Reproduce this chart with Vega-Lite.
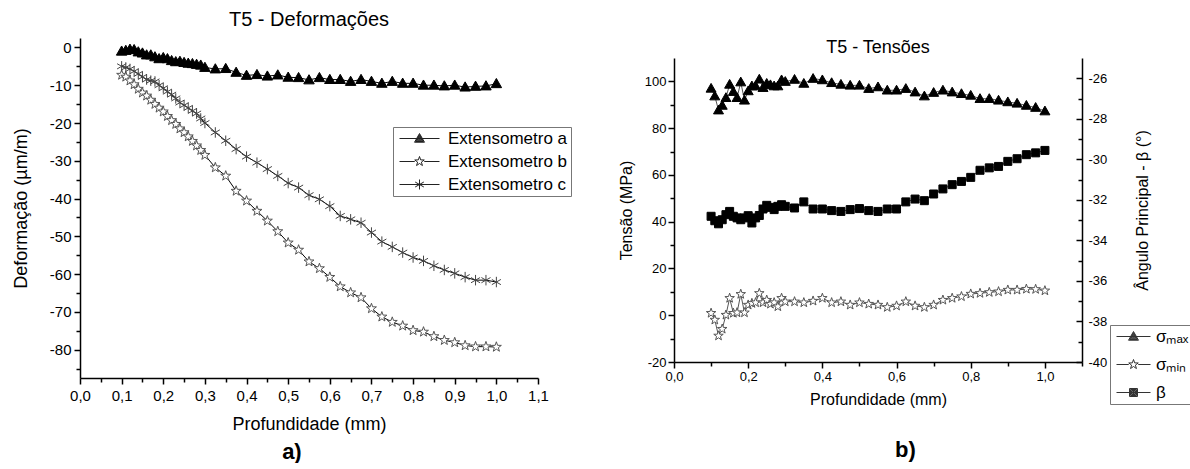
{
  "$schema": "https://vega.github.io/schema/vega-lite/v6.json",
  "background": "white",
  "padding": {"left": 12, "top": 10, "right": 0, "bottom": 0},
  "spacing": 46,
  "resolve": {"scale": {"shape": "independent", "fill": "independent", "stroke": "independent"}},
  "datasets": {
    "deform": [
      {"x":0.10,"Extensometro a":-1.0,"Extensometro b":-7.3,"Extensometro c":-5.0},
      {"x":0.11,"Extensometro a":-0.8,"Extensometro b":-7.8,"Extensometro c":-5.3},
      {"x":0.12,"Extensometro a":-0.5,"Extensometro b":-8.8,"Extensometro c":-5.7},
      {"x":0.13,"Extensometro a":-0.6,"Extensometro b":-9.8,"Extensometro c":-6.3},
      {"x":0.14,"Extensometro a":-1.2,"Extensometro b":-11.0,"Extensometro c":-7.0},
      {"x":0.15,"Extensometro a":-1.5,"Extensometro b":-12.0,"Extensometro c":-7.8},
      {"x":0.16,"Extensometro a":-2.0,"Extensometro b":-12.8,"Extensometro c":-8.5},
      {"x":0.17,"Extensometro a":-2.0,"Extensometro b":-13.9,"Extensometro c":-8.8},
      {"x":0.18,"Extensometro a":-2.5,"Extensometro b":-15.0,"Extensometro c":-9.0},
      {"x":0.19,"Extensometro a":-3.0,"Extensometro b":-16.0,"Extensometro c":-10.0},
      {"x":0.20,"Extensometro a":-2.7,"Extensometro b":-17.0,"Extensometro c":-10.8},
      {"x":0.21,"Extensometro a":-3.0,"Extensometro b":-18.2,"Extensometro c":-11.7},
      {"x":0.22,"Extensometro a":-3.5,"Extensometro b":-19.3,"Extensometro c":-12.5},
      {"x":0.23,"Extensometro a":-3.8,"Extensometro b":-20.3,"Extensometro c":-13.5},
      {"x":0.24,"Extensometro a":-3.7,"Extensometro b":-21.5,"Extensometro c":-14.6},
      {"x":0.25,"Extensometro a":-4.0,"Extensometro b":-22.5,"Extensometro c":-15.3},
      {"x":0.26,"Extensometro a":-4.2,"Extensometro b":-23.6,"Extensometro c":-16.0},
      {"x":0.27,"Extensometro a":-4.3,"Extensometro b":-24.8,"Extensometro c":-16.8},
      {"x":0.28,"Extensometro a":-4.5,"Extensometro b":-26.0,"Extensometro c":-17.5},
      {"x":0.29,"Extensometro a":-4.7,"Extensometro b":-27.2,"Extensometro c":-18.8},
      {"x":0.30,"Extensometro a":-5.3,"Extensometro b":-28.5,"Extensometro c":-20.0},
      {"x":0.325,"Extensometro a":-5.7,"Extensometro b":-31.8,"Extensometro c":-22.5},
      {"x":0.35,"Extensometro a":-5.6,"Extensometro b":-34.0,"Extensometro c":-24.7},
      {"x":0.375,"Extensometro a":-6.6,"Extensometro b":-38.0,"Extensometro c":-26.9},
      {"x":0.40,"Extensometro a":-7.4,"Extensometro b":-40.6,"Extensometro c":-28.9},
      {"x":0.425,"Extensometro a":-7.2,"Extensometro b":-43.3,"Extensometro c":-30.5},
      {"x":0.45,"Extensometro a":-7.6,"Extensometro b":-45.9,"Extensometro c":-32.2},
      {"x":0.475,"Extensometro a":-7.3,"Extensometro b":-48.7,"Extensometro c":-34.0},
      {"x":0.50,"Extensometro a":-7.9,"Extensometro b":-51.7,"Extensometro c":-35.9},
      {"x":0.525,"Extensometro a":-8.0,"Extensometro b":-53.6,"Extensometro c":-37.1},
      {"x":0.55,"Extensometro a":-8.6,"Extensometro b":-56.7,"Extensometro c":-39.1},
      {"x":0.575,"Extensometro a":-8.0,"Extensometro b":-58.5,"Extensometro c":-40.2},
      {"x":0.60,"Extensometro a":-8.5,"Extensometro b":-60.8,"Extensometro c":-42.0},
      {"x":0.625,"Extensometro a":-8.5,"Extensometro b":-63.3,"Extensometro c":-44.6},
      {"x":0.65,"Extensometro a":-9.0,"Extensometro b":-64.9,"Extensometro c":-45.5},
      {"x":0.675,"Extensometro a":-8.5,"Extensometro b":-66.2,"Extensometro c":-46.4},
      {"x":0.70,"Extensometro a":-9.0,"Extensometro b":-69.1,"Extensometro c":-49.0},
      {"x":0.725,"Extensometro a":-9.5,"Extensometro b":-71.3,"Extensometro c":-51.4},
      {"x":0.75,"Extensometro a":-9.0,"Extensometro b":-72.7,"Extensometro c":-52.8},
      {"x":0.775,"Extensometro a":-9.5,"Extensometro b":-73.7,"Extensometro c":-54.3},
      {"x":0.80,"Extensometro a":-9.5,"Extensometro b":-74.9,"Extensometro c":-55.6},
      {"x":0.825,"Extensometro a":-10.0,"Extensometro b":-75.3,"Extensometro c":-56.5},
      {"x":0.85,"Extensometro a":-10.0,"Extensometro b":-76.5,"Extensometro c":-57.8},
      {"x":0.875,"Extensometro a":-10.2,"Extensometro b":-77.5,"Extensometro c":-58.9},
      {"x":0.90,"Extensometro a":-10.0,"Extensometro b":-78.1,"Extensometro c":-59.8},
      {"x":0.925,"Extensometro a":-10.5,"Extensometro b":-78.9,"Extensometro c":-60.8},
      {"x":0.95,"Extensometro a":-10.3,"Extensometro b":-79.2,"Extensometro c":-61.6},
      {"x":0.975,"Extensometro a":-10.2,"Extensometro b":-79.2,"Extensometro c":-61.6},
      {"x":1.00,"Extensometro a":-9.6,"Extensometro b":-79.3,"Extensometro c":-62.1}
    ],
    "tensao": [
      {"x":0.10,"σmax":97.0,"σmin":0.9,"β":-32.81},
      {"x":0.11,"σmax":93.7,"σmin":-2.0,"β":-33.03},
      {"x":0.12,"σmax":87.7,"σmin":-8.8,"β":-33.18},
      {"x":0.13,"σmax":89.7,"σmin":-5.9,"β":-32.98},
      {"x":0.14,"σmax":93.0,"σmin":0.1,"β":-32.73},
      {"x":0.15,"σmax":98.7,"σmin":7.3,"β":-32.57},
      {"x":0.16,"σmax":95.6,"σmin":0.9,"β":-32.81},
      {"x":0.17,"σmax":93.0,"σmin":1.1,"β":-32.89},
      {"x":0.18,"σmax":99.7,"σmin":9.0,"β":-32.98},
      {"x":0.19,"σmax":91.9,"σmin":1.1,"β":-32.89},
      {"x":0.20,"σmax":95.9,"σmin":4.4,"β":-32.78},
      {"x":0.21,"σmax":98.0,"σmin":5.1,"β":-33.14},
      {"x":0.22,"σmax":98.0,"σmin":5.4,"β":-32.89},
      {"x":0.23,"σmax":100.9,"σmin":9.4,"β":-32.77},
      {"x":0.24,"σmax":97.3,"σmin":5.4,"β":-32.45},
      {"x":0.25,"σmax":99.1,"σmin":6.5,"β":-32.27},
      {"x":0.26,"σmax":98.5,"σmin":4.8,"β":-32.37},
      {"x":0.27,"σmax":98.0,"σmin":5.4,"β":-32.48},
      {"x":0.28,"σmax":98.0,"σmin":3.7,"β":-32.32},
      {"x":0.29,"σmax":100.6,"σmin":7.3,"β":-32.24},
      {"x":0.30,"σmax":99.9,"σmin":5.8,"β":-32.32},
      {"x":0.325,"σmax":100.8,"σmin":5.8,"β":-32.40},
      {"x":0.35,"σmax":99.1,"σmin":5.4,"β":-32.10},
      {"x":0.375,"σmax":101.2,"σmin":6.1,"β":-32.45},
      {"x":0.40,"σmax":100.6,"σmin":7.3,"β":-32.45},
      {"x":0.425,"σmax":99.4,"σmin":5.4,"β":-32.53},
      {"x":0.45,"σmax":98.7,"σmin":5.8,"β":-32.57},
      {"x":0.475,"σmax":98.3,"σmin":4.4,"β":-32.48},
      {"x":0.50,"σmax":98.3,"σmin":5.4,"β":-32.43},
      {"x":0.525,"σmax":96.9,"σmin":4.8,"β":-32.53},
      {"x":0.55,"σmax":97.6,"σmin":4.4,"β":-32.57},
      {"x":0.575,"σmax":96.2,"σmin":3.4,"β":-32.45},
      {"x":0.60,"σmax":96.2,"σmin":4.0,"β":-32.45},
      {"x":0.625,"σmax":96.9,"σmin":5.8,"β":-32.10},
      {"x":0.65,"σmax":95.4,"σmin":4.0,"β":-31.96},
      {"x":0.675,"σmax":93.7,"σmin":3.4,"β":-32.04},
      {"x":0.70,"σmax":95.2,"σmin":4.4,"β":-31.71},
      {"x":0.725,"σmax":96.2,"σmin":6.5,"β":-31.46},
      {"x":0.75,"σmax":95.4,"σmin":7.3,"β":-31.25},
      {"x":0.775,"σmax":94.7,"σmin":8.0,"β":-31.09},
      {"x":0.80,"σmax":94.0,"σmin":9.1,"β":-30.89},
      {"x":0.825,"σmax":92.6,"σmin":9.4,"β":-30.54},
      {"x":0.85,"σmax":92.6,"σmin":9.8,"β":-30.42},
      {"x":0.875,"σmax":91.9,"σmin":10.1,"β":-30.35},
      {"x":0.90,"σmax":91.2,"σmin":10.8,"β":-30.10},
      {"x":0.925,"σmax":90.6,"σmin":10.8,"β":-29.97},
      {"x":0.95,"σmax":89.7,"σmin":11.2,"β":-29.77},
      {"x":0.975,"σmax":88.8,"σmin":11.1,"β":-29.68},
      {"x":1.00,"σmax":87.3,"σmin":10.5,"β":-29.56}
    ]
  },
  "hconcat": [
    {
      "title": {"text": "a)", "orient": "bottom", "anchor": "middle", "fontWeight": "bold", "fontSize": 22, "offset": 9},
      "vconcat": [
        {
          "width": 458,
          "height": 340,
          "title": {"text": "T5 - Deformações", "fontSize": 20, "offset": 8, "anchor": "middle"},
          "data": {"name": "deform"},
          "transform": [{"fold": ["Extensometro a", "Extensometro b", "Extensometro c"], "as": ["s", "v"]}],
          "encoding": {
            "x": {
              "field": "x", "type": "quantitative", "title": "Profundidade (mm)",
              "scale": {"domain": [0, 1.1], "nice": false, "zero": false},
              "axis": {
                "values": [0,0.05,0.1,0.15,0.2,0.25,0.3,0.35,0.4,0.45,0.5,0.55,0.6,0.65,0.7,0.75,0.8,0.85,0.9,0.95,1,1.05,1.1],
                "labelExpr": "abs(datum.value*10 - round(datum.value*10)) < 0.001 ? replace(format(datum.value, '.1f'), '.', ',') : ''",
                "tickSize": {"condition": {"test": "abs(datum.value*10 - round(datum.value*10)) < 0.001", "value": 6}, "value": 4},
                "labelFontSize": 15, "titleFontSize": 18, "labelPadding": 4, "titlePadding": 12, "labelFlush": false, "labelOverlap": false
              }
            },
            "y": {
              "field": "v", "type": "quantitative", "title": "Deformação (µm/m)",
              "scale": {"domain": [-87.5, 2.5], "nice": false, "zero": false},
              "axis": {
                "values": [-85,-80,-75,-70,-65,-60,-55,-50,-45,-40,-35,-30,-25,-20,-15,-10,-5,0],
                "labelExpr": "datum.value % 10 === 0 ? '' + datum.value : ''",
                "tickSize": {"condition": {"test": "datum.value % 10 === 0", "value": 6}, "value": 4},
                "labelFontSize": 15, "titleFontSize": 18, "labelPadding": 3, "titlePadding": 19, "labelOverlap": false
              }
            }
          },
          "layer": [
            {"mark": {"type": "line", "color": "black", "strokeWidth": 1}, "encoding": {"detail": {"field": "s"}}},
            {
              "mark": {"type": "point", "size": 110, "strokeWidth": 1, "opacity": 1},
              "encoding": {
                "shape": {
                  "field": "s", "type": "nominal", "legend": null,
                  "scale": {"domain": ["Extensometro a", "Extensometro b", "Extensometro c"], "range": ["M0,-1L1,0.75L-1,0.75Z", "M0,-1L0.235,-0.324L0.951,-0.309L0.38,0.124L0.588,0.809L0,0.4L-0.588,0.809L-0.38,0.124L-0.951,-0.309L-0.235,-0.324Z", "M0,-1V1M-0.866,-0.5L0.866,0.5M-0.866,0.5L0.866,-0.5"]}
                },
                "fill": {"field": "s", "type": "nominal", "scale": {"domain": ["Extensometro a", "Extensometro b", "Extensometro c"], "range": ["black", "white", "transparent"]}, "legend": null},
                "stroke": {"field": "s", "type": "nominal", "scale": {"domain": ["Extensometro a", "Extensometro b", "Extensometro c"], "range": ["black", "#555", "#444"]}, "legend": null}
              }
            },
            {
              "transform": [{"filter": "false"}],
              "mark": {"type": "point", "size": 100, "strokeWidth": 1, "opacity": 1, "filled": false, "color": "#222"},
              "encoding": {
                "shape": {
                  "field": "s", "type": "nominal",
                  "scale": {"domain": ["Extensometro a", "Extensometro b", "Extensometro c"], "range": [
                    "M-1,0H7M3,-1L4,0.75L2,0.75ZM3,-0.8L3.8,0.6L2.2,0.6ZM3,-0.6L3.6,0.45L2.4,0.45ZM3,-0.4L3.4,0.3L2.6,0.3ZM3,-0.2L3.2,0.15L2.8,0.15Z",
                    "M-1,0H2.05M3.95,0H7M3,-1L3.235,-0.324L3.951,-0.309L3.38,0.124L3.588,0.809L3,0.4L2.412,0.809L2.62,0.124L2.049,-0.309L2.765,-0.324Z",
                    "M-1,0H7M3,-1V1M2.134,-0.5L3.866,0.5M2.134,0.5L3.866,-0.5"]},
                  "legend": {
                    "title": null, "orient": "none", "legendX": 313, "legendY": 89,
                    "strokeColor": "#777", "fillColor": "white", "padding": 3,
                    "labelFontSize": 17, "labelColor": "black", "labelFont": "Liberation Sans",
                    "symbolSize": 100, "labelOffset": 35, "rowPadding": 5, "symbolStrokeWidth": 1
                  }
                }
              }
            }
          ],
          "resolve": {"scale": {"shape": "independent"}}
        }
      ]
    },
    {
      "title": {"text": "b)", "orient": "bottom", "anchor": "middle", "fontWeight": "bold", "fontSize": 22, "offset": 33},
      "spacing": 0,
      "vconcat": [
        {
          "width": 408,
          "height": 1,
          "data": {"values": []},
          "mark": {"type": "point", "opacity": 0}
        },
        {
          "width": 408,
          "height": 304,
          "title": {"text": "T5 - Tensões", "fontSize": 18, "offset": 1, "anchor": "middle"},
          "data": {"name": "tensao"},
          "encoding": {
            "x": {
              "field": "x", "type": "quantitative", "title": "Profundidade (mm)",
              "scale": {"domain": [0, 1.1], "nice": false, "zero": false},
              "axis": {
                "values": [0,0.1,0.2,0.3,0.4,0.5,0.6,0.7,0.8,0.9,1,1.1],
                "labelExpr": "abs(datum.value*5 - round(datum.value*5)) < 0.001 && datum.value < 1.05 ? replace(format(datum.value, '.1f'), '.', ',') : ''",
                "tickSize": {"condition": {"test": "abs(datum.value*5 - round(datum.value*5)) < 0.001", "value": 6}, "value": 4},
                "labelFontSize": 13, "titleFontSize": 16, "labelPadding": 2, "titlePadding": 8, "labelFlush": false, "labelOverlap": false
              }
            }
          },
          "layer": [
            {
              "transform": [{"fold": ["σmax", "σmin"], "as": ["s", "v"]}],
              "encoding": {
                "y": {
                  "field": "v", "type": "quantitative", "title": "Tensão (MPa)",
                  "scale": {"domain": [-20, 110], "nice": false, "zero": false},
                  "axis": {
                    "values": [-20,-10,0,10,20,30,40,50,60,70,80,90,100],
                    "labelExpr": "datum.value % 20 === 0 ? '' + datum.value : ''",
                    "tickSize": {"condition": {"test": "datum.value % 20 === 0", "value": 6}, "value": 4},
                    "labelFontSize": 13, "titleFontSize": 16, "labelPadding": 2, "titlePadding": 10, "labelOverlap": false
                  }
                }
              },
              "layer": [
                {"mark": {"type": "line", "color": "#555", "strokeWidth": 1}, "encoding": {"detail": {"field": "s"}}},
                {"mark": {"type": "point", "size": 100, "strokeWidth": 1, "opacity": 1},
                 "encoding": {
                   "shape": {"field": "s", "type": "nominal", "legend": null,
                     "scale": {"domain": ["σmax", "σmin"], "range": ["M0,-1L1,0.75L-1,0.75Z", "M0,-1L0.235,-0.324L0.951,-0.309L0.38,0.124L0.588,0.809L0,0.4L-0.588,0.809L-0.38,0.124L-0.951,-0.309L-0.235,-0.324Z"]}},
                   "fill": {"field": "s", "type": "nominal", "legend": null, "scale": {"domain": ["σmax", "σmin", "β"], "range": ["black", "white", "black"]}},
                   "stroke": {"field": "s", "type": "nominal", "legend": null, "scale": {"domain": ["σmax", "σmin", "β"], "range": ["black", "#555", "black"]}}
                 }}
              ]
            },
            {
              "transform": [{"fold": ["β"], "as": ["s", "v"]}],
              "encoding": {
                "y": {
                  "field": "v", "type": "quantitative", "title": "Ângulo Principal - β (°)",
                  "scale": {"domain": [-40, -25], "nice": false, "zero": false},
                  "axis": {
                    "orient": "right",
                    "values": [-40,-39,-38,-37,-36,-35,-34,-33,-32,-31,-30,-29,-28,-27,-26],
                    "labelExpr": "datum.value % 2 === 0 ? '' + datum.value : ''",
                    "tickSize": {"condition": {"test": "datum.value % 2 === 0", "value": -6}, "value": -4},
                    "labelFontSize": 13, "titleFontSize": 16, "labelPadding": 12, "titlePadding": 28, "labelOverlap": false,
                    "titleAngle": 270, "titleBaseline": "top"
                  }
                }
              },
              "layer": [
                {"mark": {"type": "line", "color": "#555", "strokeWidth": 1}, "encoding": {"detail": {"field": "s"}}},
                {"mark": {"type": "point", "size": 100, "strokeWidth": 1, "opacity": 1},
                 "encoding": {
                   "shape": {"field": "s", "type": "nominal", "legend": null,
                     "scale": {"domain": ["β"], "range": ["M-0.8,-0.8H0.8V0.8H-0.8Z"]}},
                   "fill": {"field": "s", "type": "nominal", "legend": null, "scale": {"domain": ["σmax", "σmin", "β"], "range": ["black", "white", "black"]}},
                   "stroke": {"field": "s", "type": "nominal", "legend": null, "scale": {"domain": ["σmax", "σmin", "β"], "range": ["black", "#555", "black"]}}
                 }}
              ]
            },
            {
              "transform": [{"filter": "false"}, {"fold": ["β"], "as": ["s", "v"]}],
              "mark": {"type": "point", "size": 100, "strokeWidth": 1, "opacity": 1, "filled": false, "color": "#333"},
              "encoding": {
                "shape": {
                  "field": "s", "type": "nominal",
                  "scale": {"domain": ["σmax", "σmin", "β"], "range": [
                    "M-1,0H5.8M2.4,-1L3.4,0.75L1.4,0.75ZM2.4,-0.8L3.2,0.6L1.6,0.6ZM2.4,-0.6L3,0.45L1.8,0.45ZM2.4,-0.4L2.8,0.3L2,0.3ZM2.4,-0.2L2.6,0.15L2.2,0.15Z",
                    "M-1,0H1.45M3.35,0H5.8M2.4,-1L2.635,-0.324L3.351,-0.309L2.78,0.124L2.988,0.809L2.4,0.4L1.812,0.809L2.02,0.124L1.449,-0.309L2.165,-0.324Z",
                    "M-1,0H5.8M1.6,-0.8H3.2V0.8H1.6ZM1.8,-0.6H3V0.6H1.8ZM2,-0.4H2.8V0.4H2ZM2.2,-0.2H2.6V0.2H2.2Z"]},
                  "legend": {
                    "title": null, "orient": "none", "legendX": 436, "legendY": 267,
                    "strokeColor": "#777", "fillColor": "white", "padding": 3,
                    "labelFontSize": 17, "labelColor": "black", "labelFont": "Liberation Sans",
                    "symbolSize": 100, "labelOffset": 26, "rowPadding": 10, "symbolStrokeWidth": 1,
                    "labelExpr": "datum.label === 'σmax' ? 'σₘₐₓ' : datum.label === 'σmin' ? 'σₘᵢₙ' : datum.label"
                  }
                }
              }
            }
          ],
          "resolve": {"scale": {"y": "independent", "shape": "independent"}}
        }
      ]
    }
  ],
  "config": {
    "font": "Liberation Sans",
    "view": {"stroke": null},
    "title": {"font": "Liberation Sans", "fontWeight": "normal", "color": "black"},
    "axis": {
      "grid": false, "domainColor": "black", "domainWidth": 1.5, "tickColor": "black", "tickWidth": 1.5,
      "labelColor": "black", "titleColor": "black", "labelFont": "Liberation Sans", "titleFont": "Liberation Sans", "titleFontWeight": "normal"
    },
    "legend": {"labelFont": "Liberation Sans"}
  }
}
